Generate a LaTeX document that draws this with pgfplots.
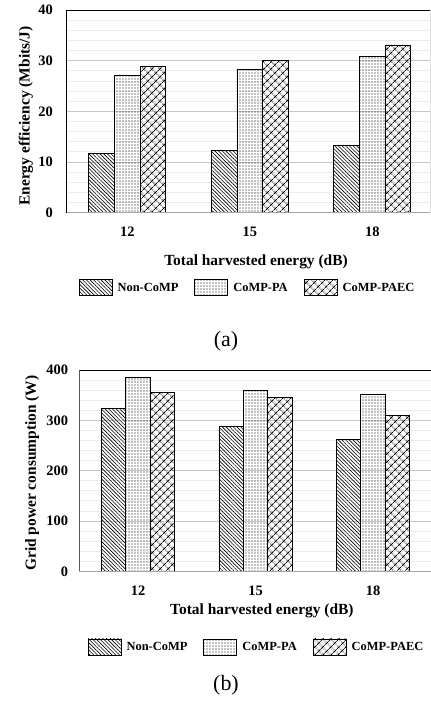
\documentclass[border=0pt]{standalone}
\usepackage{fontspec}
\setmainfont{Liberation Serif}
\usepackage{pgfplots}
\pgfplotsset{compat=1.18}
\usetikzlibrary{patterns.meta}

\pgfplotsset{
 mybars/.style={
  scale only axis,
  ybar=0pt,
  xmin=-0.5,
  ymin=0,
  xtick={0,1,2}, xticklabels={12,15,18},
  major tick length=0pt, minor tick length=0pt,
  ymajorgrids, yminorgrids,
  major grid style={draw=black!22, line width=0.8bp},
  minor grid style={draw=black!8, line width=0.8bp},
  minor y tick num=4,
  axis line style={draw=none},
  /pgf/number format/assume math mode=true,
  tick label style={font=\bfseries\fontsize{14.5}{17}\selectfont},
  xticklabel style={anchor=base, yshift=-24bp},
  label style={font=\bfseries\fontsize{15.5}{18}\selectfont},
  legend style={draw=none, fill=none, legend columns=3, anchor=center,
    font=\bfseries\fontsize{12.5}{15}\selectfont,
    /tikz/every odd column/.append style={column sep=3bp},
    /tikz/every even column/.append style={column sep=14bp},
    cells={anchor=west}},
 },
 mylegend/.style={legend image code/.code={\draw[##1,line width=0.9bp] (0bp,-8bp) rectangle (33bp,8bp);}},
 s1/.style={draw=black, line width=0.9bp, pattern={Lines[angle=-45,distance=2.6bp,line width=0.6bp]}, mylegend},
 s2/.style={draw=black, line width=0.9bp, pattern={Dots[distance=3bp,radius=0.6bp]}, mylegend},
 s3/.style={draw=black, line width=0.9bp, pattern={Hatch[angle=45,distance=6bp,line width=0.7bp]}, mylegend},
}

\begin{document}
\begin{tikzpicture}
\useasboundingbox (0,0) rectangle (431bp,712bp);
\clip (0,0) rectangle (431bp,712bp);

% (a)
\begin{axis}[mybars,
  at={(66bp,499.3bp)}, anchor=south west,
  width=364bp, height=202.7bp,
  xmax=2.471, ymax=40,
  ytick={0,10,20,30,40},
  bar width=25.6bp,
  yticklabel style={anchor=east, inner sep=0pt, xshift=-13bp},
  xlabel={Total harvested energy (dB)},
  xlabel style={at={(axis description cs:0.522,-0.243)}, anchor=center},
  ylabel={Energy efficiency (Mbits/J)},
  ylabel style={at={(axis description cs:-0.110,0.477)}, anchor=center},
  legend style={at={(axis description cs:0.4986,-0.371)}},
]
\addplot[s1] coordinates {(0,11.7) (1,12.2) (2,13.3)};
\addplot[s2] coordinates {(0,27.0) (1,28.3) (2,30.9)};
\addplot[s3] coordinates {(0,28.9) (1,30.1) (2,33.1)};
\legend{Non-CoMP, CoMP-PA, CoMP-PAEC}
\draw[black!35, line width=1.3bp] (rel axis cs:0,0) -- (rel axis cs:1,0);
\draw[black, line width=0.9bp] (rel axis cs:1,0) -- (rel axis cs:1,1) -- (rel axis cs:0,1) -- (rel axis cs:0,0);
\end{axis}

% (b)
\begin{axis}[mybars,
  at={(79.3bp,140.7bp)}, anchor=south west,
  width=352.5bp, height=201.3bp,
  xmax=2.5, ymax=400,
  ytick={0,100,200,300,400},
  bar width=24.4bp,
  yticklabel style={anchor=east, inner sep=0pt, xshift=-11bp},
  xlabel={Total harvested energy (dB)},
  xlabel style={at={(axis description cs:0.518,-0.197)}, anchor=center},
  ylabel={Grid power consumption (W)},
  ylabel style={at={(axis description cs:-0.134,0.488)}, anchor=center},
  legend style={at={(axis description cs:0.5027,-0.376)}},
]
\addplot[s1] coordinates {(0,323) (1,288) (2,262)};
\addplot[s2] coordinates {(0,385) (1,360) (2,352)};
\addplot[s3] coordinates {(0,356) (1,346) (2,310)};
\legend{Non-CoMP, CoMP-PA, CoMP-PAEC}
\draw[black!35, line width=1.3bp] (rel axis cs:0,0) -- (rel axis cs:1,0);
\draw[black, line width=0.9bp] (rel axis cs:1,0) -- (rel axis cs:1,1) -- (rel axis cs:0,1) -- (rel axis cs:0,0);
\end{axis}

\node[font=\fontsize{22}{26}\selectfont] at (226bp,371bp) {(a)};
\node[font=\fontsize{22}{26}\selectfont] at (226bp,27bp) {(b)};
\end{tikzpicture}
\end{document}
